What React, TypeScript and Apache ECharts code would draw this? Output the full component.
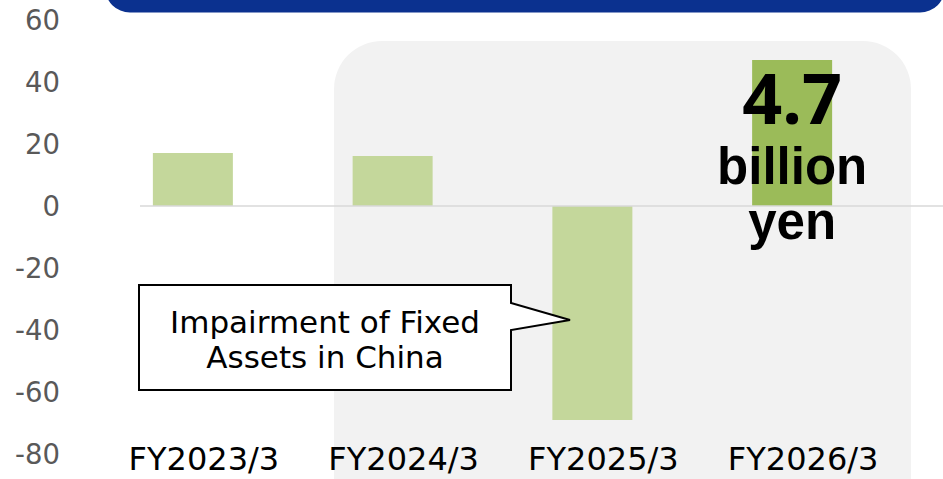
import React, { useEffect, useRef } from 'react';
import * as echarts from 'echarts';

const categories = ['FY2023/3', 'FY2024/3', 'FY2025/3', 'FY2026/3'];
const values = [17.1, 16.1, -69.0, 47.1];
const barColors = ['#C4D79B', '#C4D79B', '#C4D79B', '#9BBB59'];
const yMin = -80;
const yMax = 60;
const yInterval = 20;
const calloutLines = ['Impairment of Fixed', 'Assets in China'];
const highlightValue = '4.7';
const highlightUnit = ['billion', 'yen'];

export default function App() {
  const ref = useRef<HTMLDivElement>(null);
  useEffect(() => {
    if (!ref.current) return;
    const chart = echarts.init(ref.current, null, { renderer: 'svg' });
    chart.setOption({
      animation: false,
      grid: { left: 93, right: 51, top: 20, bottom: 25 },
      xAxis: {
        type: 'category',
        data: categories,
        axisLine: { show: false, onZero: false },
        axisTick: { show: false },
        axisLabel: {
          fontFamily: 'DejaVu Sans',
          fontSize: 32,
          color: '#000000',
          margin: -11,
          padding: [0, 0, 0, 22],
        },
      },
      yAxis: {
        type: 'value',
        min: yMin,
        max: yMax,
        interval: yInterval,
        splitLine: { show: false },
        axisLine: { show: false },
        axisTick: { show: false },
        axisLabel: { fontFamily: 'DejaVu Sans', fontSize: 27.5, color: '#595959', margin: 33 },
      },
      series: [
        {
          type: 'bar',
          barWidth: 80,
          data: values.map((v, i) => ({ value: v, itemStyle: { color: barColors[i] } })),
        },
      ],
    });
    const y0 = chart.convertToPixel({ yAxisIndex: 0 }, 0) as number;
    const xLast = chart.convertToPixel({ xAxisIndex: 0 }, categories[3]) as number;
    chart.setOption({
      graphic: [
        {
          type: 'rect',
          z: 0,
          shape: { x: 334, y: 41, width: 577, height: 520, r: 48 },
          style: { fill: '#F2F2F2' },
        },
        {
          type: 'rect',
          z: 0,
          shape: { x: 105, y: -40, width: 840, height: 52.5, r: 25 },
          style: { fill: '#0B318F' },
        },
        {
          type: 'line',
          z: 10,
          shape: { x1: 140, y1: y0, x2: 943, y2: y0 },
          style: { stroke: '#D9D9D9', lineWidth: 1.5 },
        },
        {
          type: 'polygon',
          z: 10,
          shape: {
            points: [
              [139, 285], [511, 285], [511, 303], [570, 320], [511, 330], [511, 390], [139, 390],
            ],
          },
          style: { fill: '#FFFFFF', stroke: '#000000', lineWidth: 2 },
        },
        {
          type: 'text',
          z: 11,
          x: 325,
          y: 339,
          style: {
            text: calloutLines.join('\n'),
            fontFamily: 'DejaVu Sans',
            fontSize: 31,
            lineHeight: 35,
            fill: '#000000',
            align: 'center',
            verticalAlign: 'middle',
          },
        },
        {
          type: 'text',
          z: 11,
          x: xLast,
          y: 97,
          style: {
            text: highlightValue,
            fontFamily: 'Noto Sans',
            fontWeight: 'bold',
            fontSize: 70,
            fill: '#000000',
            align: 'center',
            verticalAlign: 'middle',
          },
        },
        {
          type: 'text',
          z: 11,
          x: xLast,
          y: 166,
          style: {
            text: highlightUnit[0],
            fontFamily: 'Liberation Sans',
            fontWeight: 'bold',
            fontSize: 51,
            fill: '#000000',
            align: 'center',
            verticalAlign: 'middle',
          },
        },
        {
          type: 'text',
          z: 11,
          x: xLast,
          y: 221,
          style: {
            text: highlightUnit[1],
            fontFamily: 'Liberation Sans',
            fontWeight: 'bold',
            fontSize: 51,
            fill: '#000000',
            align: 'center',
            verticalAlign: 'middle',
          },
        },
      ],
    });
    return () => chart.dispose();
  }, []);
  return (
    <div
      ref={ref}
      style={{ position: 'fixed', left: 0, top: 0, width: 943, height: 479, background: '#FFFFFF' }}
    />
  );
}
